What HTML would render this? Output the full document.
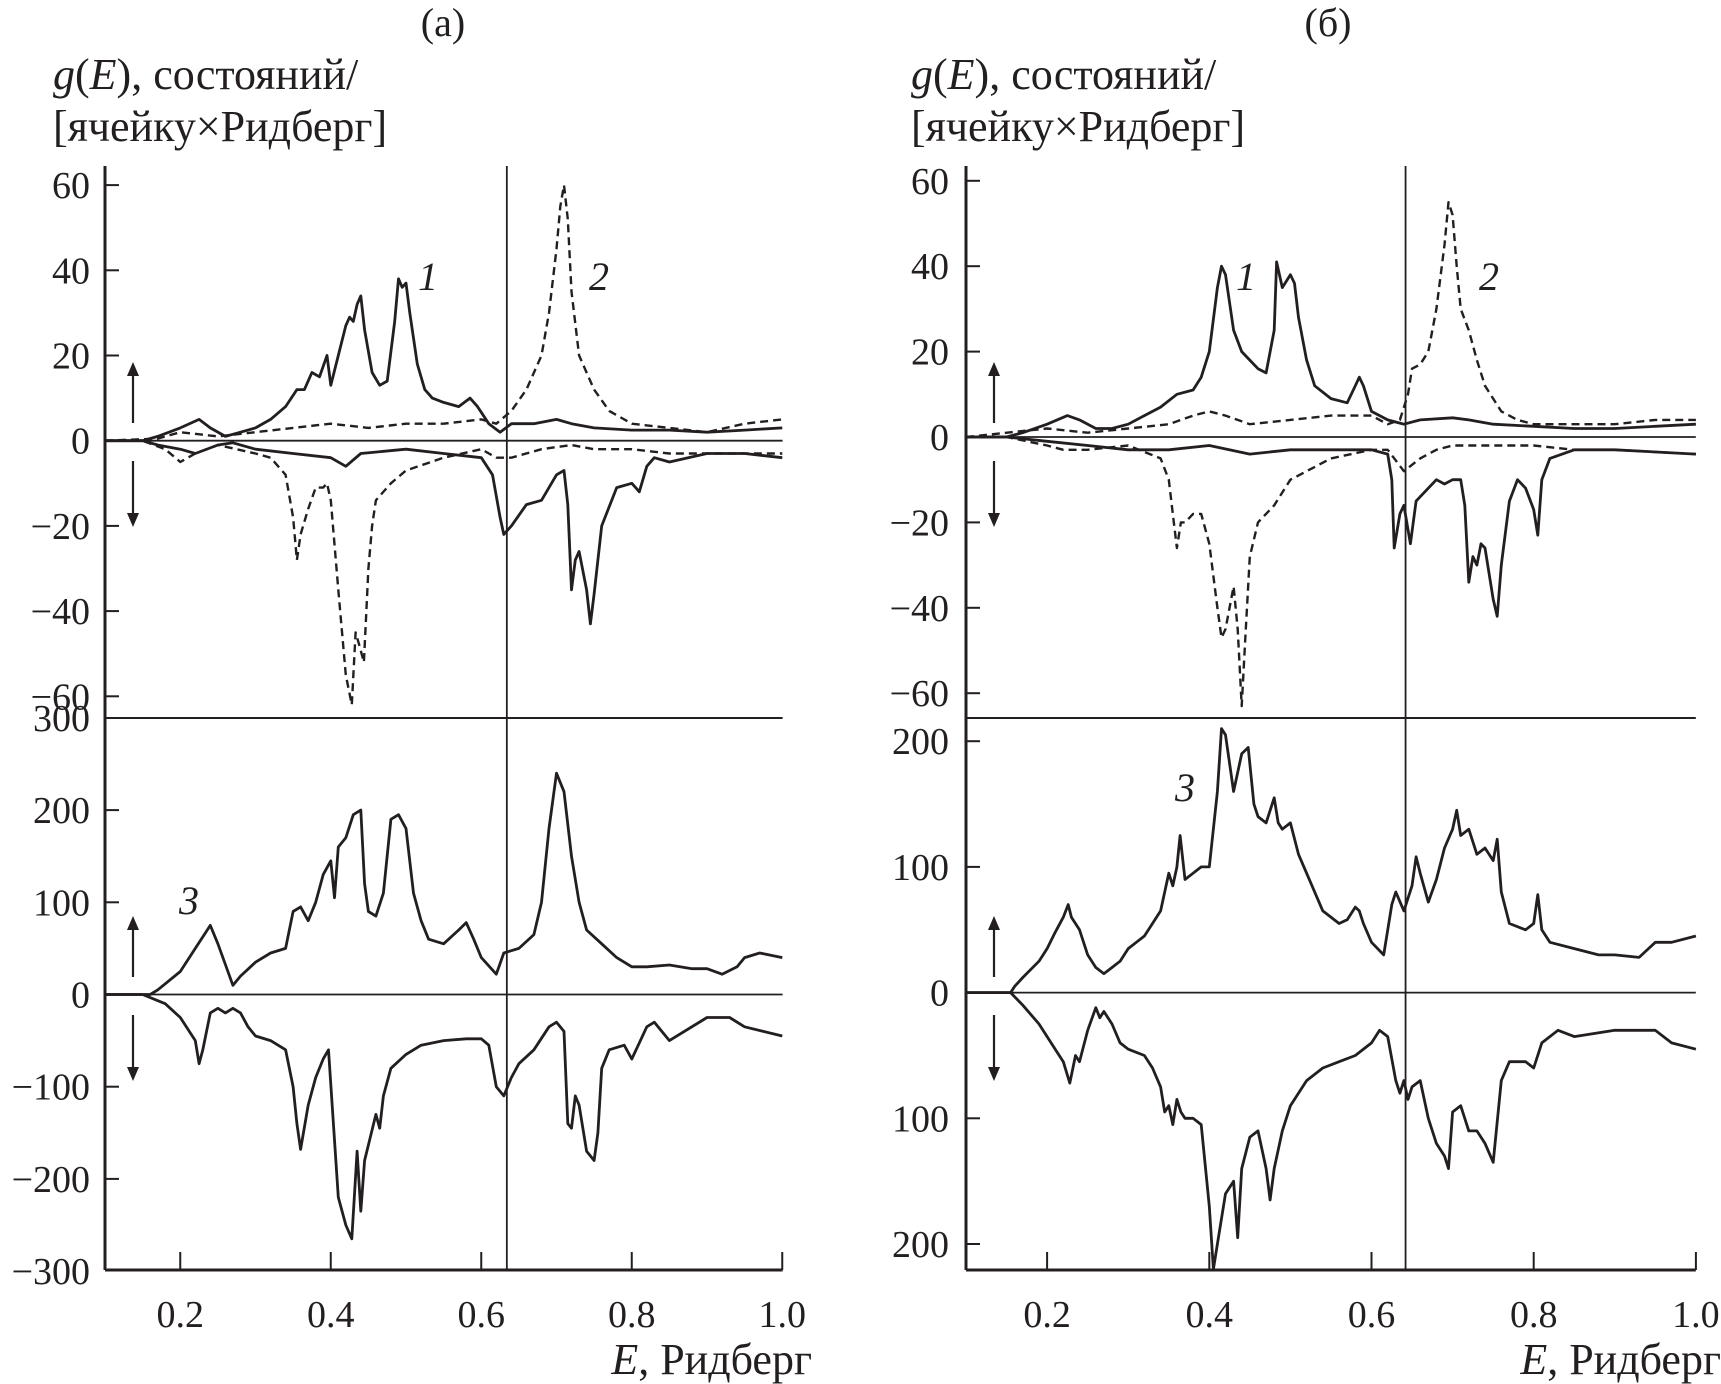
<!DOCTYPE html>
<html><head><meta charset="utf-8">
<style>
html,body{margin:0;padding:0;background:#fff;}
svg{display:block;}
text{font-family:"Liberation Serif",serif;fill:#231f20;}
</style></head>
<body>
<svg id="chart" width="1721" height="1384" viewBox="0 0 1721 1384" xmlns="http://www.w3.org/2000/svg">
<g id="static"></g>
</svg>
<script>
// ---------- data (E in Ry, g(E) values) ----------
const xTicks = [0.2, 0.4, 0.6, 0.8, 1.0];
const xTickLabels = ["0.2", "0.4", "0.6", "0.8", "1.0"];
const topTicks = [60, 40, 20, 0, -20, -40, -60];
const topTickLabels = ["60", "40", "20", "0", "\u221220", "\u221240", "\u221260"];
const leftBottomTicks = [300, 200, 100, 0, -100, -200, -300];
const leftBottomTickLabels = ["300", "200", "100", "0", "\u2212100", "\u2212200", "\u2212300"];
const rightBottomTicks = [200, 100, 0, -100, -200];
const rightBottomTickLabels = ["200", "100", "0", "100", "200"];
const fermiA = 0.634;
const fermiB = 0.642;

const aE1up = [0.1,0.15,0.17,0.2,0.225,0.24,0.26,0.28,0.30,0.32,0.34,0.355,0.365,0.375,0.385,0.395,0.40,0.41,0.42,0.425,0.43,0.435,0.44,0.445,0.455,0.465,0.475,0.485,0.49,0.495,0.50,0.505,0.515,0.525,0.535,0.55,0.57,0.585,0.595,0.61,0.625,0.64,0.67,0.70,0.72,0.75,0.80,0.85,0.90,0.95,1.0];
const aV1up = [0,0,1,3,5,3,1,2,3,5,8,12,12,16,15,20,13,20,27,29,28,32,34,26,16,13,14,28,38,36,37,30,18,12,10,9,8,10,8,4,2,4,4,5,4,3,2.5,2.5,2,2.5,3];
const aE1dn = [0.1,0.15,0.17,0.2,0.22,0.25,0.27,0.3,0.35,0.4,0.42,0.44,0.5,0.55,0.6,0.615,0.625,0.63,0.64,0.66,0.68,0.70,0.71,0.715,0.72,0.725,0.73,0.74,0.745,0.75,0.76,0.78,0.80,0.81,0.82,0.83,0.85,0.9,0.95,1.0];
const aV1dn = [0,0,-1,-2,-3,-1,-0.5,-2,-3,-4,-6,-3,-2,-3,-4,-8,-18,-22,-20,-15,-14,-8,-7,-15,-35,-28,-26,-35,-43,-36,-20,-11,-10,-12,-6,-4,-5,-3,-3,-4];
const aE2up = [0.1,0.17,0.2,0.25,0.3,0.35,0.4,0.45,0.5,0.55,0.6,0.62,0.64,0.66,0.68,0.69,0.70,0.705,0.71,0.715,0.72,0.73,0.75,0.77,0.80,0.85,0.9,0.95,1.0];
const aV2up = [0,0.5,2,1,2,3,4,3,4,4,5,4,7,12,20,30,45,55,60,52,35,20,12,7,4,3,2,4,5];
const aE2dn = [0.1,0.15,0.18,0.2,0.22,0.25,0.3,0.32,0.34,0.35,0.355,0.36,0.37,0.38,0.39,0.395,0.40,0.41,0.42,0.428,0.433,0.438,0.444,0.45,0.455,0.46,0.48,0.5,0.55,0.6,0.62,0.64,0.68,0.72,0.75,0.8,0.85,0.9,1.0];
const aV2dn = [0,0,-2,-5,-3,-1,-3,-4,-8,-18,-28,-22,-16,-11,-11,-10,-14,-35,-55,-62,-45,-48,-52,-30,-20,-14,-10,-7,-4,-2,-4,-4,-2,-1,-2,-2,-3,-3,-3];

const aE3up = [0.1,0.16,0.17,0.2,0.22,0.24,0.25,0.27,0.28,0.3,0.32,0.34,0.35,0.36,0.37,0.38,0.39,0.40,0.405,0.41,0.42,0.43,0.44,0.445,0.45,0.46,0.47,0.48,0.49,0.50,0.51,0.52,0.53,0.55,0.57,0.58,0.59,0.60,0.62,0.63,0.65,0.67,0.68,0.69,0.70,0.71,0.72,0.73,0.74,0.76,0.78,0.8,0.82,0.85,0.88,0.9,0.92,0.94,0.95,0.97,1.0];
const aV3up = [0,0,5,25,50,75,55,10,20,35,45,50,90,95,80,100,130,145,105,160,170,195,200,120,90,85,110,190,195,180,110,80,60,55,70,78,60,40,22,45,50,65,100,180,240,220,150,100,70,55,40,30,30,32,28,28,22,30,40,45,40];
const aE3dn = [0.1,0.15,0.18,0.2,0.22,0.225,0.23,0.24,0.25,0.26,0.27,0.28,0.29,0.3,0.32,0.34,0.35,0.355,0.36,0.37,0.38,0.39,0.397,0.41,0.42,0.428,0.435,0.44,0.445,0.46,0.465,0.47,0.48,0.5,0.52,0.55,0.58,0.60,0.61,0.62,0.63,0.64,0.65,0.67,0.69,0.70,0.71,0.715,0.72,0.725,0.73,0.74,0.75,0.755,0.76,0.77,0.79,0.80,0.82,0.83,0.85,0.9,0.93,0.95,1.0];
const aV3dn = [0,0,-10,-25,-50,-75,-60,-20,-15,-20,-15,-20,-35,-45,-50,-60,-100,-140,-168,-120,-90,-70,-60,-220,-250,-265,-170,-235,-180,-130,-145,-110,-80,-65,-55,-50,-48,-48,-55,-100,-110,-90,-75,-60,-35,-30,-40,-140,-145,-110,-120,-170,-180,-150,-80,-60,-55,-70,-35,-30,-50,-25,-25,-35,-45];

const bE1up = [0.1,0.15,0.17,0.2,0.225,0.24,0.26,0.28,0.3,0.32,0.34,0.36,0.38,0.39,0.40,0.41,0.415,0.42,0.43,0.44,0.45,0.46,0.47,0.48,0.483,0.49,0.50,0.505,0.51,0.52,0.53,0.55,0.57,0.58,0.585,0.59,0.60,0.62,0.64,0.66,0.70,0.72,0.75,0.8,0.85,0.9,0.95,1.0];
const bV1up = [0,0,1,3,5,4,2,2,3,5,7,10,11,14,20,35,40,38,25,20,18,16,15,25,41,35,38,36,28,18,12,9,8,12,14,12,6,4,3,4,4.5,4,3,2.5,2,2,2.5,3];
const bE1dn = [0.1,0.15,0.2,0.25,0.3,0.35,0.4,0.45,0.5,0.55,0.6,0.62,0.625,0.628,0.635,0.64,0.648,0.655,0.67,0.68,0.69,0.70,0.71,0.715,0.72,0.725,0.73,0.735,0.74,0.75,0.755,0.76,0.77,0.78,0.79,0.80,0.805,0.81,0.82,0.85,0.9,1.0];
const bV1dn = [0,0,-1,-2,-3,-3,-2,-4,-3,-3,-3,-4,-10,-26,-18,-16,-25,-15,-12,-10,-11,-10,-10,-16,-34,-28,-30,-25,-26,-38,-42,-30,-15,-10,-12,-17,-23,-10,-5,-3,-3,-4];
const bE2up = [0.1,0.2,0.25,0.3,0.35,0.38,0.40,0.42,0.45,0.5,0.55,0.6,0.62,0.635,0.645,0.65,0.66,0.67,0.68,0.69,0.695,0.70,0.705,0.71,0.72,0.73,0.74,0.76,0.78,0.8,0.85,0.9,0.95,1.0];
const bV2up = [0,2,1,2,3,5,6,5,3,4,5,5,3,4,10,16,17,20,30,45,55,52,40,30,25,18,12,6,4,3,3,3,4,4];
const bE2dn = [0.1,0.15,0.2,0.22,0.25,0.3,0.34,0.35,0.355,0.36,0.365,0.37,0.38,0.39,0.40,0.41,0.415,0.42,0.43,0.435,0.44,0.445,0.45,0.46,0.48,0.5,0.55,0.6,0.62,0.64,0.66,0.68,0.7,0.75,0.8,0.85,0.9,1.0];
const bV2dn = [0,0,-2,-3,-3,-2,-5,-10,-18,-26,-20,-20,-18,-18,-25,-40,-47,-45,-35,-45,-63,-45,-28,-20,-16,-10,-5,-3,-3,-8,-5,-3,-2,-2,-2,-3,-3,-4];

const bE3up = [0.1,0.155,0.16,0.17,0.19,0.2,0.21,0.22,0.226,0.23,0.24,0.25,0.26,0.27,0.28,0.29,0.30,0.31,0.32,0.33,0.34,0.35,0.355,0.36,0.364,0.37,0.38,0.39,0.40,0.41,0.415,0.42,0.43,0.44,0.448,0.455,0.46,0.47,0.48,0.485,0.49,0.50,0.51,0.52,0.54,0.56,0.57,0.58,0.585,0.59,0.60,0.615,0.625,0.63,0.64,0.65,0.655,0.66,0.67,0.68,0.69,0.70,0.705,0.71,0.72,0.73,0.74,0.75,0.755,0.76,0.77,0.79,0.80,0.805,0.81,0.82,0.85,0.88,0.9,0.93,0.95,0.97,1.0];
const bV3up = [0,0,5,12,25,35,48,60,70,60,50,30,20,15,20,25,35,40,45,55,65,95,85,100,125,90,95,100,100,160,210,205,160,190,195,150,140,135,155,135,130,135,110,95,65,55,58,68,65,55,40,30,70,80,65,85,108,95,72,90,115,130,145,125,130,110,115,105,122,80,55,50,55,78,50,40,35,30,30,28,40,40,45];
const bE3dn = [0.1,0.155,0.17,0.19,0.2,0.21,0.22,0.228,0.235,0.24,0.25,0.26,0.265,0.27,0.28,0.29,0.30,0.32,0.33,0.34,0.345,0.35,0.355,0.36,0.365,0.37,0.38,0.39,0.40,0.405,0.41,0.42,0.43,0.435,0.44,0.45,0.46,0.47,0.475,0.48,0.49,0.50,0.52,0.54,0.56,0.58,0.60,0.61,0.62,0.63,0.635,0.64,0.645,0.65,0.66,0.67,0.68,0.69,0.695,0.70,0.71,0.72,0.73,0.74,0.75,0.76,0.77,0.79,0.80,0.81,0.83,0.85,0.9,0.95,0.97,1.0];
const bV3dn = [0,0,-10,-25,-35,-45,-55,-72,-50,-55,-30,-12,-20,-15,-25,-40,-45,-50,-60,-75,-95,-90,-105,-85,-95,-100,-100,-105,-170,-220,-200,-160,-150,-195,-140,-115,-110,-140,-165,-140,-110,-90,-70,-60,-55,-50,-40,-30,-35,-70,-80,-70,-85,-75,-70,-100,-120,-130,-140,-95,-90,-110,-110,-120,-135,-70,-55,-55,-60,-40,-30,-35,-30,-30,-40,-45];

// ---------- axis functions ----------
const xA = e => 105 + (e - 0.1) * 752.5;
const xB = e => 966 + (e - 0.1) * 811;
const yAT = v => 440.7 - v * 4.26;
const yAB = v => 994.5 - v * 0.922;
const yBT = v => 437 - v * 4.27;
const yBB = v => 992.6 - v * 1.257;

const NS = "http://www.w3.org/2000/svg";
const svg = document.getElementById("chart");
function el(tag, attrs, parent) {
  const e = document.createElementNS(NS, tag);
  for (const k in attrs) e.setAttribute(k, attrs[k]);
  (parent || svg).appendChild(e);
  return e;
}
function line(x1, y1, x2, y2, w, name) {
  const l = el("line", {x1, y1, x2, y2, stroke: "#231f20", "stroke-width": w});
  
  
  return l;
}
function txt(x, y, s, anchor, size, name, italic) {
  const t = el("text", {x, y, "text-anchor": anchor, "font-size": size});
  if (italic) t.setAttribute("font-style", "italic");
  t.textContent = s;
  
  
  return t;
}
function series(E, V, fx, fy, dashed, name) {
  const d = E.map((e, i) => (i ? "L" : "M") + fx(e).toFixed(1) + "," + fy(V[i]).toFixed(1)).join("");
  const p = el("path", {d, fill: "none", stroke: "#231f20", "stroke-width": dashed ? 2.4 : 2.8, "stroke-linejoin": "round"});
  if (dashed) p.setAttribute("stroke-dasharray", "8 5");
  
  
}
function arrow(x, y1, y2, name) {
  line(x, y1, x, y2 + (y2 < y1 ? 10 : -10), 2.2, name + "-shaft");
  const dir = y2 < y1 ? 1 : -1;
  const h = el("polygon", {points: `${x-6},${y2+dir*14} ${x+6},${y2+dir*14} ${x},${y2}`, fill: "#231f20"});
  
  
}

function panel(fx, fyT, fyB, x0, x1, fermi, bTicks, bLabels, labelX, pre) {
  const top = 166, div = 718, bot = 1270;
  line(x0, top, x0, bot, 3, pre + "-y-axis");
  line(x0, bot, x1, bot, 3, pre + "-x-axis");
  line(x0, div, x1, div, 2, pre + "-panel-divider");
  line(x0, fyT(0), x1, fyT(0), 1.8, pre + "-top-zero-line");
  line(x0, fyB(0), x1, fyB(0), 1.8, pre + "-bottom-zero-line");
  line(fx(fermi), top, fx(fermi), bot, 1.8, pre + "-fermi-level-line");
  topTicks.forEach((v, i) => {
    line(x0, fyT(v), x0 + 14, fyT(v), 2, pre + "-top-y-tick");
    txt(labelX, fyT(v) + 13, topTickLabels[i], "end", 38, pre + "-top-y-tick-label");
  });
  bTicks.forEach((v, i) => {
    if (fyB(v) > div + 5 && fyB(v) < bot - 3) line(x0, fyB(v), x0 + 14, fyB(v), 2, pre + "-bottom-y-tick");
    txt(labelX, fyB(v) + 13, bLabels[i], "end", 38, pre + "-bottom-y-tick-label");
  });
  xTicks.forEach((v, i) => {
    line(fx(v), bot, fx(v), bot - 18, 2, pre + "-x-tick");
    txt(fx(v), 1327, xTickLabels[i], "middle", 38, pre + "-x-tick-label");
  });
}

panel(xA, yAT, yAB, 105, 782.6, fermiA, leftBottomTicks, leftBottomTickLabels, 90, "panel-a");
panel(xB, yBT, yBB, 966, 1695.8, fermiB, rightBottomTicks, rightBottomTickLabels, 949, "panel-b");

series(aE1up, aV1up, xA, yAT, false, "a-curve1-spin-up");
series(aE1dn, aV1dn, xA, yAT, false, "a-curve1-spin-down");
series(aE2up, aV2up, xA, yAT, true, "a-curve2-spin-up");
series(aE2dn, aV2dn, xA, yAT, true, "a-curve2-spin-down");
series(aE3up, aV3up, xA, yAB, false, "a-curve3-spin-up");
series(aE3dn, aV3dn, xA, yAB, false, "a-curve3-spin-down");
series(bE1up, bV1up, xB, yBT, false, "b-curve1-spin-up");
series(bE1dn, bV1dn, xB, yBT, false, "b-curve1-spin-down");
series(bE2up, bV2up, xB, yBT, true, "b-curve2-spin-up");
series(bE2dn, bV2dn, xB, yBT, true, "b-curve2-spin-down");
series(bE3up, bV3up, xB, yBB, false, "b-curve3-spin-up");
series(bE3dn, bV3dn, xB, yBB, false, "b-curve3-spin-down");

arrow(133, 423, 362, "a-top-spin-up-arrow");
arrow(133, 461, 527, "a-top-spin-down-arrow");
arrow(133, 977, 916, "a-bottom-spin-up-arrow");
arrow(133, 1015, 1081, "a-bottom-spin-down-arrow");
arrow(994, 423, 362, "b-top-spin-up-arrow");
arrow(994, 461, 527, "b-top-spin-down-arrow");
arrow(994, 977, 916, "b-bottom-spin-up-arrow");
arrow(994, 1015, 1081, "b-bottom-spin-down-arrow");

txt(428, 290, "1", "middle", 40, "a-curve1-label", true);
txt(599, 290, "2", "middle", 40, "a-curve2-label", true);
txt(189, 914, "3", "middle", 40, "a-curve3-label", true);
txt(1246, 290, "1", "middle", 40, "b-curve1-label", true);
txt(1489, 290, "2", "middle", 40, "b-curve2-label", true);
txt(1185, 801, "3", "middle", 40, "b-curve3-label", true);

txt(443, 36, "(a)", "middle", 40, "panel-a-title");
txt(1328, 36, "(б)", "middle", 40, "panel-b-title");
function ylab(x, pre) {
  const t = el("text", {x, y: 89, "font-size": 44});
  
  
  t.innerHTML = '<tspan font-style="italic">g</tspan>(<tspan font-style="italic">E</tspan>), состояний/';
  txt(x, 141, "[ячейку×Ридберг]", "start", 44, pre + "-y-axis-title-line2");
}
ylab(53, "panel-a");
ylab(911, "panel-b");
function xlab(x, pre) {
  const t = el("text", {x, y: 1374, "font-size": 44, "text-anchor": "end"});
  
  
  t.innerHTML = '<tspan font-style="italic">E</tspan>, Ридберг';
}
xlab(812, "panel-a");
xlab(1721, "panel-b");
</script>
</body></html>
